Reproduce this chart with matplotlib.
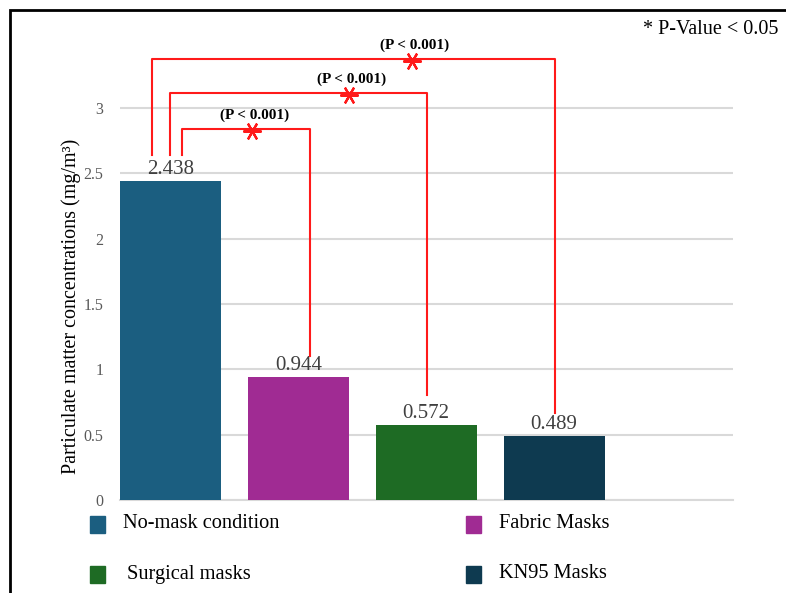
import matplotlib.pyplot as plt
import matplotlib.patches as mpatches

# Datos
categorias = ['No-mask condition', 'Fabric Masks', 'Surgical masks', 'KN95 Masks']
valores = [2.438, 0.944, 0.572, 0.489]
colores = ['#1B5E80', '#A02B93', '#1E6B24', '#0E3A50']

# Comparaciones (barra de referencia, barra comparada)
pares = [(0, 1), (0, 2), (0, 3)]
etiquetas_p = ['(P < 0.001)', '(P < 0.001)', '(P < 0.001)']

plt.rcParams['font.family'] = ['Liberation Serif', 'DejaVu Serif']

fig = plt.figure(figsize=(7.86, 5.93), dpi=100)
ax = fig.add_axes([120 / 786, 1 - 500 / 593, 613 / 786, 451 / 593])

x = list(range(len(valores)))
ax.bar(x, valores, width=0.79, color=colores, zorder=3)

for xi, v in zip(x, valores):
    ax.text(xi, v + 0.015, f'{v:.3f}', ha='center', va='bottom', fontsize=15, color='#404040')

ax.set_xlim(-0.395, 4.4)
ax.set_ylim(0, 3.45)
ax.set_yticks([0, 0.5, 1, 1.5, 2, 2.5, 3])
ax.set_yticklabels(['0', '0.5', '1', '1.5', '2', '2.5', '3'])
ax.set_xticks([])
ax.grid(axis='y', color='#d9d9d9', linewidth=1.5, zorder=0)
for s in ['top', 'right', 'left']:
    ax.spines[s].set_visible(False)
ax.spines['bottom'].set_color('#d9d9d9')
ax.spines['bottom'].set_linewidth(1.5)
ax.tick_params(axis='y', length=0, pad=12, labelsize=11.5, labelcolor='#595959')
ax.set_ylabel('Particulate matter concentrations (mg/m³)', fontsize=14.5)
ax.yaxis.set_label_coords(-0.064, 0.43)

# Corchetes de significancia (del más interno al más externo)
x_izq = [0.09, 0.0, -0.145]
x_der = [1.09, 2.01, 3.01]
y_top = [2.84, 3.115, 3.375]
y_fin = [1.10, 0.80, 0.666]
x_ast = [0.64, 1.40, 1.89]
for xl, xr, yt, yf, xa, lab in zip(x_izq, x_der, y_top, y_fin, x_ast, etiquetas_p):
    ax.plot([xl, xl, xr, xr], [2.64, yt, yt, yf], color='#ff1a1a', lw=1.5, clip_on=False, zorder=4)
    ax.plot(xa, yt - 0.02, marker=(6, 2, 30), color='#ff1a1a', markersize=13, mew=1.6,
            clip_on=False, zorder=5)
    ax.text(xa + 0.02, yt + 0.1, lab, ha='center', va='center', fontsize=11, fontweight='bold',
            clip_on=False)

fig.text(643 / 786, 1 - 30 / 593, '* P-Value < 0.05', fontsize=14.5, va='center', ha='left')

# Leyenda manual
pos_leyenda = [(90, 525), (466, 525), (90, 575), (466, 575)]
for (px, py), cat, col in zip(pos_leyenda, categorias, colores):
    fig.patches.append(mpatches.Rectangle((px / 786, 1 - (py + 8) / 593), 15 / 786, 17 / 593,
                                          transform=fig.transFigure, color=col))
    dx = 37 if cat == 'Surgical masks' else 33
    fig.text((px + dx) / 786, 1 - (py - 1) / 593, cat, fontsize=14.7, va='center', ha='left')

# Marco
fig.patches.append(mpatches.Rectangle((10 / 786, -0.1), 1.0, 1 - 10 / 593 + 0.1,
                                      transform=fig.transFigure, fill=False,
                                      edgecolor='black', linewidth=2))

fig.savefig('out.png', dpi=100)
